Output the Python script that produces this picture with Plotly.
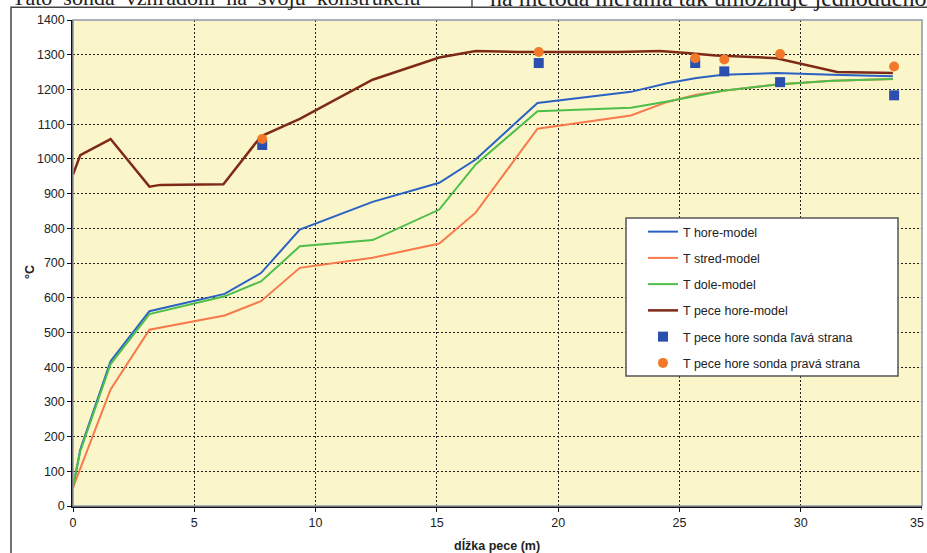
import plotly.graph_objects as go

# distance along the kiln (m) for the model profiles
x_model = [0, 0.3, 1.55, 3.15, 6.25, 7.75, 9.35, 12.35, 15.1, 16.6, 19.15,
           23.0, 24.5, 25.7, 26.8, 29.0, 31.3, 33.8]
t_hore = [53, 163, 417, 561, 611, 671, 796, 876, 931, 998, 1161,
          1193, 1218, 1233, 1242, 1247, 1242, 1238]
t_stred = [53, 108, 336, 508, 549, 590, 686, 715, 756, 845, 1087,
           1125, 1164, 1185, 1196, 1214, 1225, 1230]
t_dole = [57, 158, 409, 553, 604, 647, 748, 766, 854, 984, 1137,
          1147, 1165, 1182, 1196, 1214, 1225, 1230]

# kiln atmosphere (upper) model
x_pece = [0, 0.3, 1.55, 3.15, 3.6, 6.2, 7.75, 9.35, 12.35, 15.1, 16.6,
          18.3, 22.5, 24.2, 25.3, 26.5, 29.0, 31.5, 33.8]
t_pece = [955, 1011, 1057, 920, 925, 927, 1065, 1115, 1228, 1292, 1311,
          1308, 1308, 1311, 1305, 1298, 1290, 1250, 1247]

# probe measurements
x_sonda = [7.8, 19.2, 25.65, 26.85, 29.15, 33.85]
sonda_lava = [1040, 1276, 1276, 1252, 1221, 1183]
sonda_prava = [1057, 1308, 1290, 1286, 1302, 1266]

x_ticks = [0, 5, 10, 15, 20, 25, 30]
x_last_tick = 35
y_ticks = list(range(0, 1401, 100))

FONT = "Liberation Sans, Arial, sans-serif"
SERIF = "Liberation Serif, DejaVu Serif, serif"

# plot-area geometry in pixels (used to place paper-referenced decorations)
W, H = 927, 553
L, R, T, B = 73, 5, 20, 47
PW, PH = W - L - R, H - T - B


def px(x):
    return (x - L) / PW


def py(y):
    return (H - B - y) / PH


fig = go.Figure()

fig.add_trace(go.Scatter(x=x_model, y=t_hore, mode="lines", name="T hore-model",
                         line=dict(color="#2A62C4", width=2), legendgroup="a"))
fig.add_trace(go.Scatter(x=x_model, y=t_stred, mode="lines", name="T stred-model",
                         line=dict(color="#F7794C", width=2), legendgroup="b"))
fig.add_trace(go.Scatter(x=x_model, y=t_dole, mode="lines", name="T dole-model",
                         line=dict(color="#4DBE4A", width=2), legendgroup="c"))
fig.add_trace(go.Scatter(x=x_pece, y=t_pece, mode="lines", name="T pece hore-model",
                         line=dict(color="#7E2A17", width=2.5), legendgroup="d"))
fig.add_trace(go.Scatter(x=x_sonda, y=sonda_lava, mode="markers",
                         name="T pece hore sonda ľavá strana",
                         marker=dict(symbol="square", size=10, color="#2A4FAE"),
                         legendgroup="e"))
fig.add_trace(go.Scatter(x=x_sonda, y=sonda_prava, mode="markers",
                         name="T pece hore sonda pravá strana",
                         marker=dict(symbol="circle", size=10, color="#F2782A"),
                         legendgroup="f"))

axis_common = dict(
    showgrid=True, gridcolor="#222222", gridwidth=1, griddash="2px,2px",
    zeroline=False, showline=True, linecolor="#111111", linewidth=1.5,
    ticks="outside", ticklen=4, tickcolor="#111111", tickwidth=1,
    tickfont=dict(family=FONT, size=12.5, color="#222222"),
)

fig.update_xaxes(range=[0, 35], tickvals=x_ticks, **axis_common)
fig.update_yaxes(range=[0, 1400], tickvals=y_ticks, **axis_common)

shapes = [
    # plot-area frame
    dict(type="rect", xref="paper", yref="paper", x0=0, x1=1, y0=0, y1=1,
         line=dict(color="#8E97A8", width=1.5), layer="above"),
    # chart-area frame
    dict(type="rect", xref="paper", yref="paper", x0=px(11), x1=px(960),
         y0=py(580), y1=py(7.3), line=dict(color="#444444", width=1.5),
         layer="above"),
    # column separator of the surrounding page text
    dict(type="line", xref="paper", yref="paper", x0=px(472), x1=px(472),
         y0=py(7.3), y1=py(-5), line=dict(color="#333333", width=1.2)),
    # legend box
    dict(type="rect", xref="paper", yref="paper", x0=px(626), x1=px(898),
         y0=py(376), y1=py(218), fillcolor="white",
         line=dict(color="#555555", width=1.5), layer="above"),
    # tick mark for the last x label
    dict(type="line", xref="x", yref="paper", x0=x_last_tick, x1=x_last_tick,
         y0=0, y1=py(H - B + 4), line=dict(color="#111111", width=1)),
]

annotations = [
    dict(text="<b>dĺžka pece (m)</b>", xref="paper", yref="paper",
         x=px(497), y=py(545), showarrow=False,
         font=dict(family=FONT, size=12.5, color="#222222"),
         xanchor="center", yanchor="middle"),
    dict(text="<b>°C</b>", xref="paper", yref="paper", x=px(30), y=py(272),
         showarrow=False, textangle=-90,
         font=dict(family=FONT, size=12.5, color="#222222"),
         xanchor="center", yanchor="middle"),
    # last x tick label, kept inside the page edge
    dict(text=str(x_last_tick), xref="paper", yref="paper", x=1.0, y=py(523),
         xshift=4, showarrow=False,
         font=dict(family=FONT, size=12.5, color="#222222"),
         xanchor="right", yanchor="middle"),
    # surrounding page text above the chart
    dict(text="Táto\u00a0 sonda\u00a0 vzhľadom\u00a0 na\u00a0 svoju\u00a0 konštrukciu",
         xref="paper", yref="paper", x=px(10), y=py(-2.5), showarrow=False,
         font=dict(family=SERIF, size=22, color="#222222"),
         xanchor="left", yanchor="middle"),
    dict(text="na metóda merania tak umožňuje jednoducho",
         xref="paper", yref="paper", x=px(488), y=py(-2.5), showarrow=False,
         font=dict(family=SERIF, size=24, color="#222222"),
         xanchor="left", yanchor="middle"),
]

fig.update_layout(
    width=W, height=H,
    margin=dict(l=L, r=R, t=T, b=B, pad=0),
    paper_bgcolor="white",
    plot_bgcolor="#FBF6C9",
    showlegend=True,
    legend=dict(x=px(643), y=py(217), xanchor="left", yanchor="top",
                bgcolor="rgba(0,0,0,0)", borderwidth=0,
                tracegroupgap=7, itemwidth=30,
                font=dict(family=FONT, size=12.5, color="#222222")),
    shapes=shapes,
    annotations=annotations,
)

fig.write_html("out.html")
